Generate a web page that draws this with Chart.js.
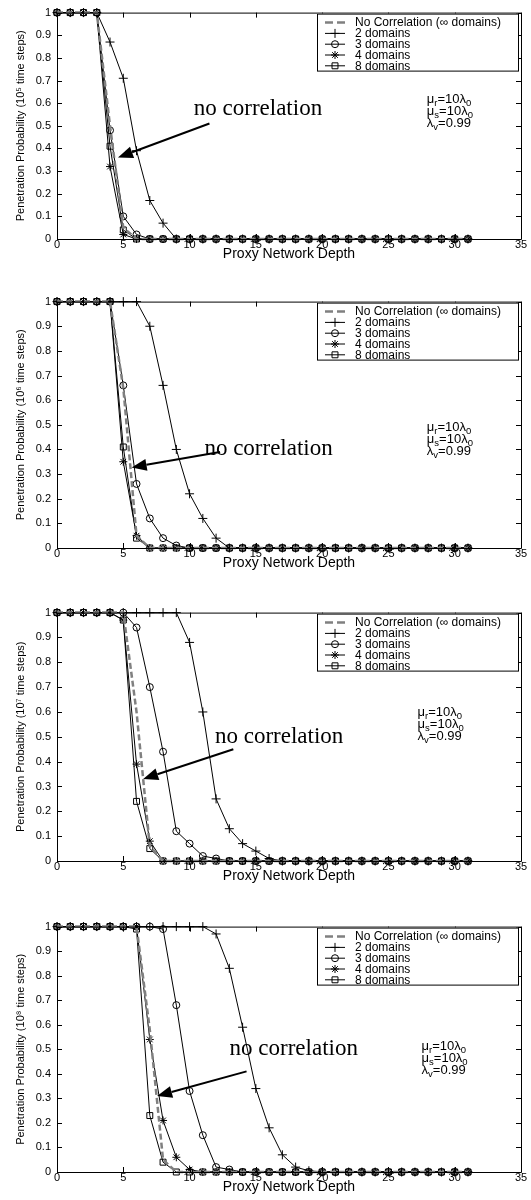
<!DOCTYPE html>
<html>
<head>
<meta charset="utf-8">
<script src="https://cdn.jsdelivr.net/npm/chart.js@4.4.1/dist/chart.umd.min.js"></script>
<style>
  body { margin: 0; background: #fff; }
  canvas { position: absolute; left: 0; }
</style>
</head>
<body>
<script>
// x positions (proxy network depth)
const depth = [0, 1, 2, 3, 4, 5, 6, 7, 8, 9, 10, 11, 12, 13, 14, 15,
  16, 17, 18, 19, 20, 21, 22, 23, 24, 25, 26, 27, 28, 29, 30, 31]
const xTicks = [0, 5, 10, 15, 20, 25, 30, 35]
const yTicks = [0, 0.1, 0.2, 0.3, 0.4, 0.5, 0.6, 0.7, 0.8, 0.9, 1]
const seriesLabels = ['No Correlation (\u221e domains)', '2 domains', '3 domains', '4 domains', '8 domains']
const timeSteps = ['\u2075', '\u2076', '\u2077', '\u2078']

// 10^5 time steps
const noCorr5 = [1, 1, 1, 1, 0.50, 0.05, 0, 0, 0, 0, 0, 0, 0, 0, 0, 0, 0, 0, 0, 0, 0, 0, 0, 0, 0, 0, 0, 0, 0, 0, 0, 0]
const dom2_5 = [1, 1, 1, 1, 0.87, 0.71, 0.39, 0.17, 0.07, 0, 0, 0, 0, 0, 0, 0, 0, 0, 0, 0, 0, 0, 0, 0, 0, 0, 0, 0, 0, 0, 0, 0]
const dom3_5 = [1, 1, 1, 1, 0.48, 0.10, 0.02, 0, 0, 0, 0, 0, 0, 0, 0, 0, 0, 0, 0, 0, 0, 0, 0, 0, 0, 0, 0, 0, 0, 0, 0, 0]
const dom4_5 = [1, 1, 1, 1, 0.32, 0.02, 0, 0, 0, 0, 0, 0, 0, 0, 0, 0, 0, 0, 0, 0, 0, 0, 0, 0, 0, 0, 0, 0, 0, 0, 0, 0]
const dom8_5 = [1, 1, 1, 1, 0.41, 0.04, 0, 0, 0, 0, 0, 0, 0, 0, 0, 0, 0, 0, 0, 0, 0, 0, 0, 0, 0, 0, 0, 0, 0, 0, 0, 0]

// 10^6 time steps
const noCorr6 = [1, 1, 1, 1, 1, 0.65, 0.05, 0, 0, 0, 0, 0, 0, 0, 0, 0, 0, 0, 0, 0, 0, 0, 0, 0, 0, 0, 0, 0, 0, 0, 0, 0]
const dom2_6 = [1, 1, 1, 1, 1, 1, 1, 0.90, 0.66, 0.40, 0.22, 0.12, 0.04, 0, 0, 0, 0, 0, 0, 0, 0, 0, 0, 0, 0, 0, 0, 0, 0, 0, 0, 0]
const dom3_6 = [1, 1, 1, 1, 1, 0.66, 0.26, 0.12, 0.04, 0.01, 0, 0, 0, 0, 0, 0, 0, 0, 0, 0, 0, 0, 0, 0, 0, 0, 0, 0, 0, 0, 0, 0]
const dom4_6 = [1, 1, 1, 1, 1, 0.35, 0.05, 0, 0, 0, 0, 0, 0, 0, 0, 0, 0, 0, 0, 0, 0, 0, 0, 0, 0, 0, 0, 0, 0, 0, 0, 0]
const dom8_6 = [1, 1, 1, 1, 1, 0.41, 0.04, 0, 0, 0, 0, 0, 0, 0, 0, 0, 0, 0, 0, 0, 0, 0, 0, 0, 0, 0, 0, 0, 0, 0, 0, 0]

// 10^7 time steps
const noCorr7 = [1, 1, 1, 1, 1, 1, 0.60, 0.06, 0, 0, 0, 0, 0, 0, 0, 0, 0, 0, 0, 0, 0, 0, 0, 0, 0, 0, 0, 0, 0, 0, 0, 0]
const dom2_7 = [1, 1, 1, 1, 1, 1, 1, 1, 1, 1, 0.88, 0.60, 0.25, 0.13, 0.07, 0.04, 0.01, 0, 0, 0, 0, 0, 0, 0, 0, 0, 0, 0, 0, 0, 0, 0]
const dom3_7 = [1, 1, 1, 1, 1, 1, 0.94, 0.70, 0.44, 0.12, 0.07, 0.02, 0.01, 0, 0, 0, 0, 0, 0, 0, 0, 0, 0, 0, 0, 0, 0, 0, 0, 0, 0, 0]
const dom4_7 = [1, 1, 1, 1, 1, 0.97, 0.39, 0.08, 0, 0, 0, 0, 0, 0, 0, 0, 0, 0, 0, 0, 0, 0, 0, 0, 0, 0, 0, 0, 0, 0, 0, 0]
const dom8_7 = [1, 1, 1, 1, 1, 0.97, 0.24, 0.05, 0, 0, 0, 0, 0, 0, 0, 0, 0, 0, 0, 0, 0, 0, 0, 0, 0, 0, 0, 0, 0, 0, 0, 0]

// 10^8 time steps
const noCorr8 = [1, 1, 1, 1, 1, 1, 1, 0.58, 0.05, 0, 0, 0, 0, 0, 0, 0, 0, 0, 0, 0, 0, 0, 0, 0, 0, 0, 0, 0, 0, 0, 0, 0]
const dom2_8 = [1, 1, 1, 1, 1, 1, 1, 1, 1, 1, 1, 1, 0.97, 0.83, 0.59, 0.34, 0.18, 0.07, 0.02, 0.005, 0, 0, 0, 0, 0, 0, 0, 0, 0, 0, 0, 0]
const dom3_8 = [1, 1, 1, 1, 1, 1, 1, 1, 0.99, 0.68, 0.33, 0.15, 0.02, 0.01, 0, 0, 0, 0, 0, 0, 0, 0, 0, 0, 0, 0, 0, 0, 0, 0, 0, 0]
const dom4_8 = [1, 1, 1, 1, 1, 1, 1, 0.54, 0.21, 0.06, 0.01, 0, 0, 0, 0, 0, 0, 0, 0, 0, 0, 0, 0, 0, 0, 0, 0, 0, 0, 0, 0, 0]
const dom8_8 = [1, 1, 1, 1, 1, 1, 0.99, 0.23, 0.04, 0, 0, 0, 0, 0, 0, 0, 0, 0, 0, 0, 0, 0, 0, 0, 0, 0, 0, 0, 0, 0, 0, 0]

// page layout of the four stacked panels
const panels = [
  { top: 0, plotBottom: 239, series: [noCorr5, dom2_5, dom3_5, dom4_5, dom8_5],
    note: { x: 20.0, y: 0.575, tail: [11.5, 0.51], tip: [4.6, 0.36] }, params: { x: 27.9, y: 0.615 } },
  { top: 289, plotBottom: 548, series: [noCorr6, dom2_6, dom3_6, dom4_6, dom8_6],
    note: { x: 20.8, y: 0.40, tail: [12.3, 0.39], tip: [5.63, 0.327] }, params: { x: 27.9, y: 0.49 } },
  { top: 600, plotBottom: 861, series: [noCorr7, dom2_7, dom3_7, dom4_7, dom8_7],
    note: { x: 21.6, y: 0.5, tail: [13.3, 0.45], tip: [6.5, 0.33] }, params: { x: 27.2, y: 0.6 } },
  { top: 914, plotBottom: 1172, series: [noCorr8, dom2_8, dom3_8, dom4_8, dom8_8],
    note: { x: 22.7, y: 0.5, tail: [14.3, 0.41], tip: [7.55, 0.31] }, params: { x: 27.5, y: 0.51 } }
]

// matlab style markers
const markers = [
  { style: false, radius: 0 },
  { style: 'cross', radius: 4.5 },
  { style: 'circle', radius: 3.5 },
  { style: 'star', radius: 4 },
  { style: 'rect', radius: 4.2 }
]

Chart.defaults.font.family = '"Liberation Sans", Arial, Helvetica, sans-serif'
Chart.defaults.color = '#000'

function drawArrow(ctx, x1, y1, x2, y2) {
  const ang = Math.atan2(y2 - y1, x2 - x1)
  const len = 15, wid = 6
  const bx = x2 - len * Math.cos(ang), by = y2 - len * Math.sin(ang)
  ctx.strokeStyle = '#000'
  ctx.fillStyle = '#000'
  ctx.lineWidth = 2
  ctx.beginPath()
  ctx.moveTo(x1, y1)
  ctx.lineTo(bx, by)
  ctx.stroke()
  ctx.beginPath()
  ctx.moveTo(x2, y2)
  ctx.lineTo(bx - wid * Math.sin(ang), by + wid * Math.cos(ang))
  ctx.lineTo(bx + wid * Math.sin(ang), by - wid * Math.cos(ang))
  ctx.closePath()
  ctx.fill()
}

// text with subscripts, parts are [text, isSub]
function drawRich(ctx, x, y, parts) {
  let cx = x
  parts.forEach(([t, sub]) => {
    ctx.font = sub ? '9.5px "Liberation Sans", Arial' : '13px "Liberation Sans", Arial'
    ctx.fillText(t, cx, sub ? y + 4 : y)
    cx += ctx.measureText(t).width
  })
}

function panelPlugin(panel) {
  return {
    id: 'matlabFrame',
    afterDatasetsDraw(chart) {
      const { ctx, chartArea: a, scales: { x, y } } = chart
      ctx.save()

      // axes box with inward ticks
      ctx.strokeStyle = '#000'
      ctx.lineWidth = 1
      ctx.beginPath()
      ctx.rect(a.left + 0.5, a.top + 0.5, a.right - a.left, a.bottom - a.top)
      xTicks.forEach(v => {
        const px = Math.round(x.getPixelForValue(v)) + 0.5
        ctx.moveTo(px, a.bottom); ctx.lineTo(px, a.bottom - 5)
        ctx.moveTo(px, a.top); ctx.lineTo(px, a.top + 5)
      })
      yTicks.forEach(v => {
        const py = Math.round(y.getPixelForValue(v)) + 0.5
        ctx.moveTo(a.left, py); ctx.lineTo(a.left + 5, py)
        ctx.moveTo(a.right, py); ctx.lineTo(a.right - 5, py)
      })
      ctx.stroke()

      // annotation
      const n = panel.note
      ctx.font = '23px "Liberation Serif", "Times New Roman", serif'
      ctx.fillStyle = '#000'
      ctx.textAlign = 'right'
      ctx.textBaseline = 'middle'
      ctx.fillText('no correlation', x.getPixelForValue(n.x), y.getPixelForValue(n.y))
      drawArrow(ctx, x.getPixelForValue(n.tail[0]), y.getPixelForValue(n.tail[1]),
        x.getPixelForValue(n.tip[0]), y.getPixelForValue(n.tip[1]))

      // model parameters
      ctx.textAlign = 'left'
      ctx.fillStyle = '#000'
      const px = x.getPixelForValue(panel.params.x)
      const py = y.getPixelForValue(panel.params.y)
      drawRich(ctx, px, py, [['\u03bc', 0], ['r', 1], ['=10\u03bb', 0], ['0', 1]])
      drawRich(ctx, px, py + 12, [['\u03bc', 0], ['s', 1], ['=10\u03bb', 0], ['0', 1]])
      drawRich(ctx, px, py + 24, [['\u03bb', 0], ['v', 1], ['=0.99', 0]])

      // legend box
      const left = a.right - 204, top = a.top + 1, w = 201, h = 57
      ctx.fillStyle = '#fff'
      ctx.fillRect(left, top, w, h)
      ctx.strokeStyle = '#000'
      ctx.lineWidth = 1
      ctx.strokeRect(left + 0.5, top + 0.5, w, h)
      ctx.font = '12px "Liberation Sans", Arial'
      ctx.textBaseline = 'middle'
      chart.data.datasets.forEach((ds, i) => {
        const ly = top + 9 + i * 10.8
        ctx.beginPath()
        ctx.setLineDash(i === 0 ? [8, 4] : [])
        ctx.strokeStyle = ds.borderColor
        ctx.lineWidth = ds.borderWidth
        ctx.moveTo(left + 8, ly)
        ctx.lineTo(left + 28, ly)
        ctx.stroke()
        ctx.setLineDash([])
        if (ds.pointRadius) {
          ctx.strokeStyle = '#000'
          ctx.fillStyle = 'rgba(0,0,0,0)'
          ctx.lineWidth = 1
          Chart.helpers.drawPoint(ctx, { pointStyle: ds.pointStyle, radius: ds.pointRadius, borderWidth: 1, rotation: 0 }, left + 18, ly)
        }
        ctx.fillStyle = '#000'
        ctx.fillText(ds.label, left + 38, ly + 0.5)
      })
      ctx.restore()
    }
  }
}

panels.forEach((panel, k) => {
  const canvas = document.createElement('canvas')
  const height = panel.plotBottom + 26 - panel.top
  canvas.width = 531
  canvas.height = height
  canvas.style.top = panel.top + 'px'
  canvas.style.width = '531px'
  canvas.style.height = height + 'px'
  document.body.appendChild(canvas)

  const datasets = panel.series.map((vals, i) => ({
    label: seriesLabels[i],
    data: depth.map((d, j) => ({ x: d, y: vals[j] })),
    borderColor: i === 0 ? '#808080' : '#000',
    borderWidth: i === 0 ? 2.5 : 1,
    borderDash: i === 0 ? [6, 3] : [],
    pointStyle: markers[i].style,
    pointRadius: markers[i].radius,
    pointBorderColor: '#000',
    pointBackgroundColor: 'rgba(0,0,0,0)',
    pointBorderWidth: 1,
    tension: 0,
    clip: false
  }))

  new Chart(canvas, {
    type: 'line',
    data: { datasets },
    options: {
      responsive: false,
      animation: false,
      devicePixelRatio: 1,
      layout: { padding: { top: 7, right: 10, left: 0, bottom: 0 } },
      plugins: { legend: { display: false }, tooltip: { enabled: false } },
      scales: {
        x: {
          type: 'linear',
          min: 0,
          max: 35,
          afterBuildTicks: s => { s.ticks = xTicks.map(v => ({ value: v })) },
          afterFit: s => { s.height = 26 },
          grid: { display: false, drawTicks: false, tickLength: 0 },
          border: { display: false },
          ticks: { font: { size: 11 }, padding: -1, maxRotation: 0 },
          title: { display: true, text: 'Proxy Network Depth', font: { size: 14 }, padding: { top: 0, bottom: 2 } }
        },
        y: {
          min: 0,
          max: 1,
          afterBuildTicks: s => { s.ticks = yTicks.map(v => ({ value: v })) },
          afterFit: s => { s.width = 57 },
          grid: { display: false, drawTicks: false, tickLength: 0 },
          border: { display: false },
          ticks: { font: { size: 11 }, padding: 6, callback: v => String(+v.toFixed(1)) },
          title: {
            display: true,
            text: 'Penetration Probability (10' + timeSteps[k] + ' time steps)',
            font: { size: 11 },
            padding: { top: 14, bottom: 0 }
          }
        }
      }
    },
    plugins: [panelPlugin(panel)]
  })
})
</script>
</body>
</html>
